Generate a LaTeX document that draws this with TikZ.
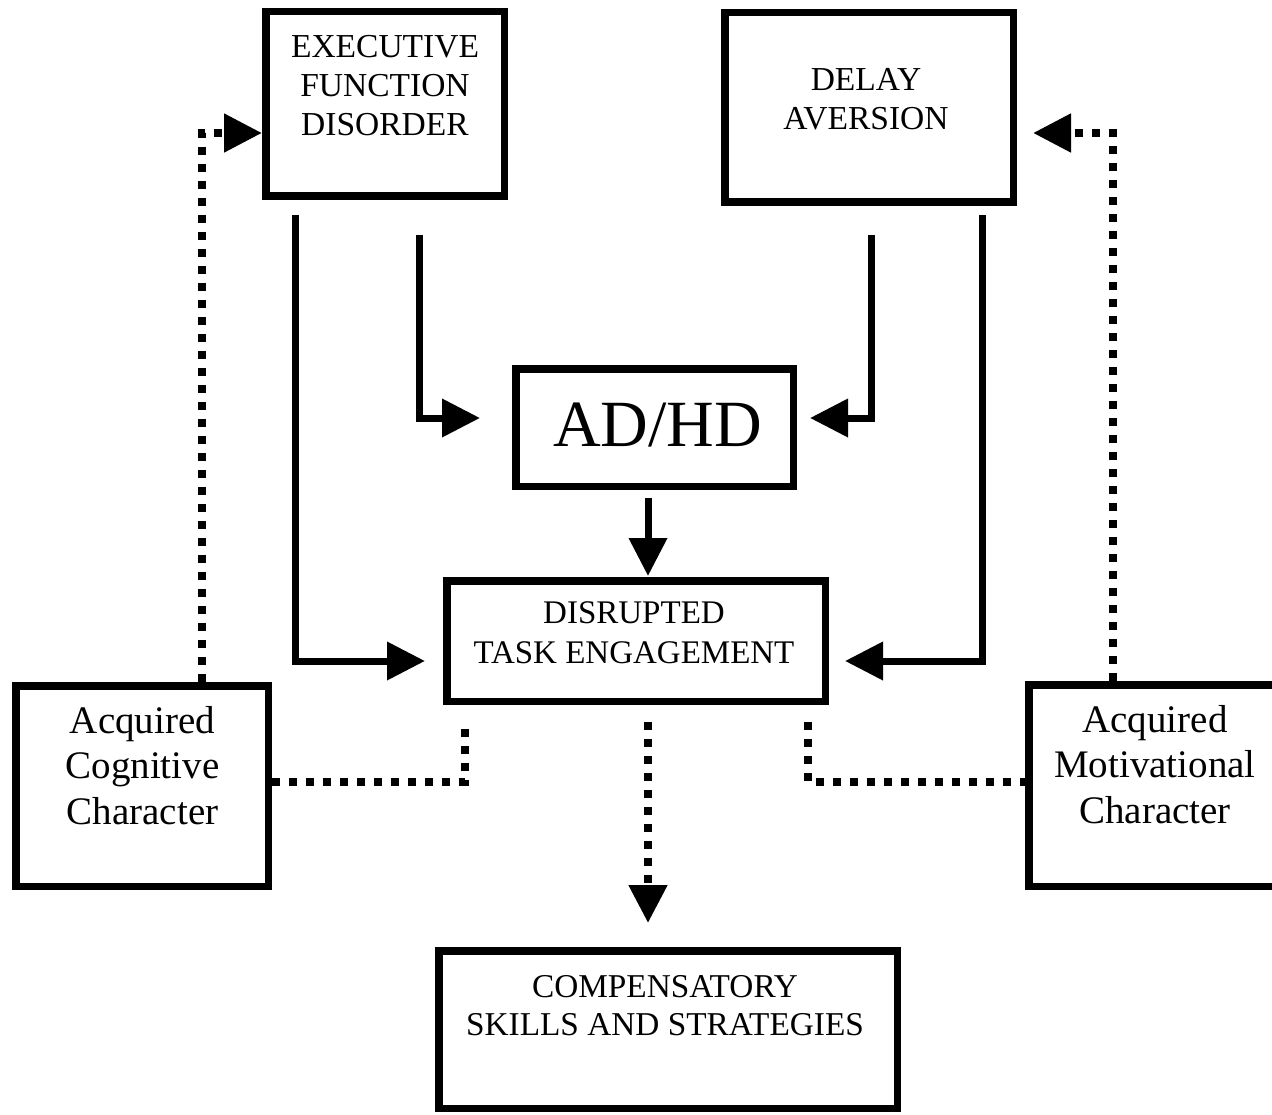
\documentclass[tikz,border=0pt]{standalone}
\usepackage{fontspec}
\setmainfont{Liberation Serif}
\usetikzlibrary{arrows.meta,calc}
\begin{document}
\begin{tikzpicture}[x=1pt,y=-1pt,
  box/.style={draw,line width=7.5pt,inner sep=0pt},
  lbl/.style={align=center,inner sep=0pt,anchor=base},
  capsfont/.style={font=\fontsize{33.5}{39}\selectfont},
  flow/.style={line width=7pt,-{Triangle[length=38pt,width=37pt]}},
  dotline/.style={line width=8pt,line cap=butt,dash pattern=on 8pt off 9pt},
  dotflow/.style={dotline,-{Triangle[length=38pt,width=37pt]}}]
\useasboundingbox (0,0) rectangle (1272,1115);
\clip (0,0) rectangle (1272,1115);

% boxes
\node[box,minimum width=238.5,minimum height=184.5] (efd) at (385,104) {};
\node[box,minimum width=288.5,minimum height=189.5] (da) at (869,107.5) {};
\node[box,minimum width=277.5,minimum height=117.5] (adhd) at (654.5,427.5) {};
\node[box,minimum width=378.5,minimum height=120.5] (dte) at (636,641) {};
\node[box,minimum width=252.5,minimum height=200.5] (acc) at (142,786) {};
\node[box,minimum width=252.5,minimum height=201.5] (amc) at (1155,785.5) {};
\node[box,minimum width=458.5,minimum height=157.5] (comp) at (668,1029.5) {};

% labels (anchored at the baseline of their last line)
\node[lbl,capsfont] (efdtext) at (385,136) {EXECUTIVE\\FUNCTION\\DISORDER};
\node[lbl,capsfont] (datext) at (866,130) {DELAY\\AVERSION};
\node[lbl,font=\fontsize{66}{70}\selectfont] (adhdtext) at (657.5,446) {AD/HD};
\node[lbl,font=\fontsize{33}{40}\selectfont] (dtetext) at (634,663) {DISRUPTED\\TASK ENGAGEMENT};
\node[lbl,font=\fontsize{39}{45.5}\selectfont] (acctext) at (142.5,824) {Acquired\\Cognitive\\Character};
\node[lbl,font=\fontsize{39}{45.5}\selectfont] (amctext) at (1155,823) {Acquired\\Motivational\\Character};
\node[lbl,font=\fontsize{33.3}{38}\selectfont] (comptext) at (665,1035) {COMPENSATORY\\SKILLS AND STRATEGIES};

% solid connectors
\draw[flow] ($(efd.south west)+(33,15)$) |- ($(dte.south west)+(-18,-44)$);
\draw[flow] ($(efd.south west)+(157,35)$) |- ($(adhd.west)+(-32,-9.5)$);
\draw[flow] ($(da.south west)+(150,29)$) |- ($(adhd.east)+(13,-9.5)$);
\draw[flow] ($(da.south west)+(261,9)$) |- ($(dte.south east)+(16,-44)$);
\draw[flow] ($(adhd.south)+(-6.5,8)$) -- ($(dte.north)+(12,-1)$);

% dotted connectors
\draw[dotflow] ($(acc.north west)+(190,0)$) |- ($(efd.west)+(0,29)$);
\draw[dotflow] ($(amc.north west)+(88,0)$) |- ($(da.east)+(16,25.5)$);
\draw[dotflow] ($(dte.south)+(12,17)$) -- ($(comp.north)+(-20,-24)$);
\draw[dotline] ($(acc.east)+(0,-4)$) -| ($(dte.south west)+(22,17)$);
\draw[dotline] ($(dte.south east)+(-21,17)$) |- ($(amc.west)+(0,-3.5)$);
\end{tikzpicture}
\end{document}
